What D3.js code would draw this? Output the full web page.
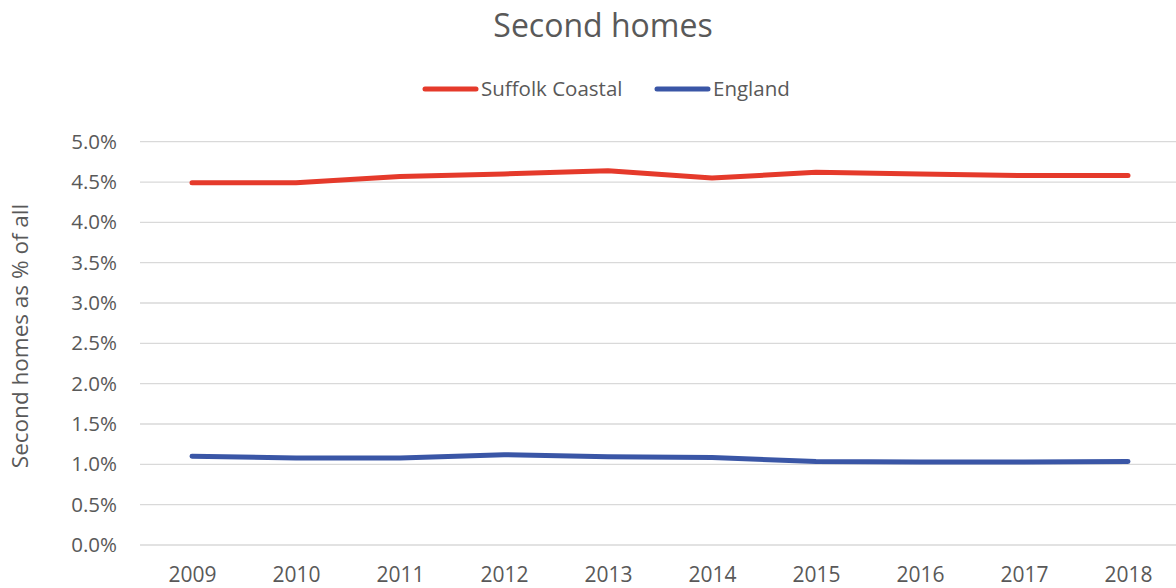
<!DOCTYPE html>
<html>
<head>
<meta charset="utf-8">
<script src="https://cdn.jsdelivr.net/npm/d3@7"></script>
<style>
body{margin:0;background:#fff}
text{font-family:"Open Sans",sans-serif;fill:#595959}
</style>
</head>
<body>
<div id="chart"></div>
<script>
var years = ["2009","2010","2011","2012","2013","2014","2015","2016","2017","2018"]
var suffolkCoastal = [4.49,4.49,4.57,4.60,4.64,4.55,4.62,4.60,4.58,4.58]
var england = [1.10,1.08,1.08,1.12,1.095,1.085,1.035,1.03,1.03,1.035]
var yTicks = [0,0.5,1,1.5,2,2.5,3,3.5,4,4.5,5]
var seriesNames = ["Suffolk Coastal","England"]
var seriesColors = ["#E53A2B","#3A56A6"]

var width = 1176
var height = 588
var svg = d3.select("#chart").append("svg").attr("width",width).attr("height",height)

var xScale = d3.scalePoint().domain(years).range([192,1128])
var yScale = d3.scaleLinear().domain([0,5]).range([545,141.7])

// gridlines
svg.selectAll(".grid")
    .data(yTicks)
    .enter()
    .append("line")
    .attr("x1",140)
    .attr("x2",1176)
    .attr("y1",function(d){return yScale(d)})
    .attr("y2",function(d){return yScale(d)})
    .attr("stroke","#D9D9D9")
    .attr("stroke-width",1.3)

var yAxis = d3.axisLeft(yScale).tickValues(yTicks)
    .tickFormat(function(d){return d.toFixed(1)+"%"})
    .tickSize(0).tickPadding(0)
var gy = svg.append("g").attr("transform","translate(117,0)").call(yAxis)
gy.select(".domain").remove()
gy.selectAll("text").attr("font-size",20.5).attr("font-family","Open Sans").attr("fill","#595959")

var xAxis = d3.axisBottom(xScale).tickSize(0).tickPadding(0)
var gx = svg.append("g").attr("transform","translate(0,566)").call(xAxis)
gx.select(".domain").remove()
gx.selectAll("text").attr("font-size",21).attr("font-family","Open Sans").attr("fill","#595959").attr("dy","0.75em")

// title
svg.append("text").text("Second homes")
    .attr("x",603).attr("y",37)
    .attr("text-anchor","middle")
    .attr("font-size",32)

// y axis title
svg.append("text").text("Second homes as % of all")
    .attr("transform","translate(28,336) rotate(-90)")
    .attr("text-anchor","middle")
    .attr("font-size",22.5)

var line = d3.line()
    .x(function(d,i){return xScale(years[i])})
    .y(function(d){return yScale(d)})

var allSeries = [suffolkCoastal,england]
svg.selectAll(".series")
    .data(allSeries)
    .enter()
    .append("path")
    .attr("class","series")
    .attr("d",line)
    .attr("fill","none")
    .attr("stroke",function(d,i){return seriesColors[i]})
    .attr("stroke-width",5)
    .attr("stroke-linecap","round")
    .attr("stroke-linejoin","round")

// legend
var legendX = [425,657]
var legend = svg.selectAll(".legend")
    .data(seriesNames)
    .enter()
    .append("g")
    .attr("transform",function(d,i){return "translate("+legendX[i]+",89)"})
legend.append("line")
    .attr("x1",0).attr("x2",51)
    .attr("stroke",function(d,i){return seriesColors[i]})
    .attr("stroke-width",5)
    .attr("stroke-linecap","round")
legend.append("text")
    .text(function(d){return d})
    .attr("x",56).attr("y",7)
    .attr("font-size",20.5)
</script>
</body>
</html>
